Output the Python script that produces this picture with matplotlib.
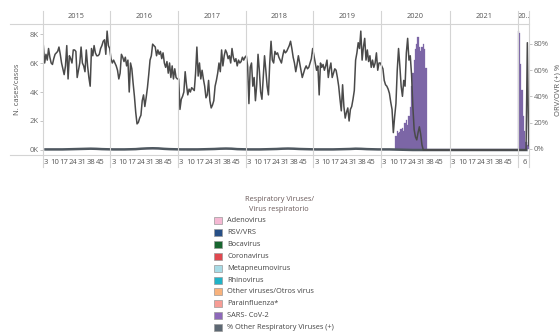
import numpy as np
import matplotlib
matplotlib.use("Agg")
import matplotlib.pyplot as plt
from matplotlib.lines import Line2D
from matplotlib.patches import Rectangle
import matplotlib.transforms as mtransforms

plt.rcParams['font.family'] = ['Open Sans', 'DejaVu Sans']

years = ["2015", "2016", "2017", "2018", "2019", "2020", "2021", "20.."]

# weekly cases (thousands), one list per year
cases_2015 = [7.2, 6.0, 6.6, 6.2, 7.0, 6.4, 6.0, 5.9, 6.3, 6.6, 6.7, 6.8, 7.1, 6.6, 6.0, 5.6, 5.2, 5.8,
              7.2, 4.9, 6.5, 6.3, 6.0, 6.9, 6.9, 6.8, 5.0, 5.5, 6.0, 7.1, 6.0, 5.8, 5.4, 6.9, 5.8, 5.0,
              4.4, 7.0, 6.5, 7.2, 6.7, 6.5, 6.5, 6.6, 7.0, 7.2, 7.5, 7.6, 6.6, 8.2, 7.2, 7.0]
cases_2016 = [6.3, 6.0, 6.2, 6.0, 5.8, 5.5, 4.9, 5.3, 6.6, 6.4, 6.1, 6.4, 5.8, 6.2, 4.0, 6.0, 5.6, 4.6,
              3.7, 2.6, 1.8, 1.9, 2.2, 2.4, 3.4, 3.8, 3.0, 3.6, 4.3, 5.2, 6.2, 6.5, 7.3, 7.2, 7.1, 6.5,
              6.9, 6.6, 6.8, 6.3, 6.7, 6.0, 5.7, 6.1, 5.3, 6.0, 5.0, 5.8, 4.9, 5.6, 5.0, 4.9]
cases_2017 = [4.9, 2.8, 3.5, 3.7, 4.0, 5.4, 4.5, 3.8, 4.2, 4.0, 4.3, 4.2, 4.1, 5.3, 7.1, 5.1, 6.0, 4.9,
              5.5, 4.9, 4.4, 3.6, 3.8, 4.8, 3.4, 2.9, 3.1, 3.4, 4.4, 4.8, 5.3, 6.0, 5.4, 6.9, 5.8, 6.5,
              6.9, 6.7, 6.3, 6.5, 6.0, 7.0, 6.4, 6.1, 6.3, 5.8, 6.2, 6.0, 6.1, 6.4, 6.2, 6.4]
cases_2018 = [6.5, 5.8, 3.2, 5.7, 6.0, 4.4, 5.0, 3.4, 4.5, 6.6, 5.5, 4.0, 3.5, 5.0, 6.5, 5.5, 4.4, 3.8,
              6.0, 7.5, 6.2, 6.0, 6.8, 6.6, 6.7, 6.4, 6.2, 6.0, 6.5, 6.9, 6.7, 6.8, 7.0, 7.2, 7.5, 7.0,
              6.4, 6.0, 5.4, 5.9, 6.5, 6.0, 5.5, 5.0, 5.3, 5.6, 5.8, 5.6, 5.7, 6.0, 6.3, 7.0]
cases_2019 = [6.5, 6.0, 5.5, 5.8, 3.8, 6.0, 5.7, 5.9, 5.5, 5.8, 6.2, 5.0, 5.6, 6.0, 5.0, 5.3, 5.6, 5.5,
              5.0, 4.4, 3.5, 2.7, 4.5, 3.0, 2.2, 2.6, 2.9, 2.0, 2.8, 3.0, 3.5, 4.1, 6.2, 6.7, 7.4, 7.0,
              8.2, 6.2, 7.1, 7.7, 6.2, 6.9, 6.1, 6.5, 5.7, 6.2, 5.7, 6.0, 6.7, 5.5, 6.0, 6.0]
cases_2020 = [5.8, 5.6, 4.8, 4.5, 4.4, 4.2, 3.9, 3.3, 2.8, 1.2, 2.3, 3.2, 5.5, 7.0, 5.8, 4.4, 3.7, 4.8,
              4.4, 6.7, 7.7, 6.2, 6.5, 5.2, 3.0, 1.4, 0.9, 0.7, 1.2, 1.6, 1.1, 0.35, 0.0,
              0, 0, 0, 0, 0, 0, 0, 0, 0, 0, 0, 0, 0, 0, 0, 0, 0, 0, 0, 0]
cases_2021 = [0] * 52
cases_2022 = [0, 0, 0, 0, 0, 0, 0, 7.4, 0.3]

# SARS-CoV-2 positivity (%)
sars_2020 = [0, 0, 0, 0, 0, 0, 0, 0, 0, 0, 0, 10, 14, 12, 13, 15, 16, 14, 20, 22, 18, 25, 32,
             48, 58, 68, 76, 80, 85, 78, 75, 78, 80, 76, 62,
             0, 0, 0, 0, 0, 0, 0, 0, 0, 0, 0, 0, 0, 0, 0, 0, 0, 0]
sars_2022 = [90, 88, 65, 45, 25, 14, 5, 3, 5]

# other respiratory viruses (cases), monthly
other_monthly = [[40, 40, 40, 40, 50, 60, 70, 80, 90, 80, 60, 50],
                 [40, 40, 40, 50, 60, 90, 110, 120, 110, 80, 60, 50],
                 [40, 40, 40, 40, 50, 60, 70, 90, 100, 90, 60, 50],
                 [40, 40, 40, 50, 60, 70, 90, 100, 90, 70, 60, 50],
                 [40, 40, 40, 40, 50, 60, 70, 90, 80, 60, 50, 40],
                 [40, 40, 30, 20, 10, 0, 0, 0, 0, 0, 0, 0],
                 [0, 0, 0, 0, 0, 0, 0, 0, 0, 0, 0, 0],
                 [0, 0]]

cases_by_year = [cases_2015, cases_2016, cases_2017, cases_2018, cases_2019,
                 cases_2020, cases_2021, cases_2022]
sars_by_year = [[0] * 52] * 5 + [sars_2020, [0] * 52, sars_2022]
week_labels = [[3, 10, 17, 24, 31, 38, 45]] * 7 + [[6]]

legend_names = ["Adenovirus", "RSV/VRS", "Bocavirus", "Coronavirus", "Metapneumovirus",
                "Rhinovirus", "Other viruses/Otros virus", "Parainfluenza*", "SARS- CoV-2",
                "% Other Respiratory Viruses (+)"]
legend_colors = ["#f5b8d3", "#274f86", "#17662f", "#e0484f", "#a7dbe6",
                 "#1fb3c7", "#f8b27c", "#f79c95", "#8d68b9", "#5d6873"]

W, H = 560, 335
fig = plt.figure(figsize=(W / 100, H / 100), dpi=100)


def fx(x):
    return x / W


def fy(y):
    return 1 - y / H


left, right, top, bot = 42.7, 529.3, 24, 155
ax = fig.add_axes([fx(left), fy(bot), fx(right - left), (bot - top) / H])
ax2 = ax.twinx()

# build continuous week index
offsets = np.cumsum([0] + [len(c) for c in cases_by_year])
x_all, y_all, s_all = [], [], []
tick_pos, tick_lab = [], []
for i, (c, s) in enumerate(zip(cases_by_year, sars_by_year)):
    xs = offsets[i] + np.arange(len(c)) + 0.5
    x_all.extend(xs)
    y_all.extend(np.array(c) * 1000)
    s_all.extend(s[:len(c)])
    for w in week_labels[i]:
        tick_pos.append(offsets[i] + w - 0.5)
        tick_lab.append(str(w))

x_all = np.array(x_all)
total = offsets[-1]

ax2.bar(x_all, s_all, width=1.0, color="#7c66a6", edgecolor="#7c66a6", lw=0.2, zorder=2)

ox, oy = [], []
for i, vals in enumerate(other_monthly):
    n = len(cases_by_year[i])
    step = n / len(vals) if i < 7 else 4.5
    for m, v in enumerate(vals):
        ox.append(offsets[i] + (m + 0.5) * step)
        oy.append(v)
ax.plot(ox, oy, color="#4f5860", lw=1.8, zorder=3)
ax.plot(x_all, y_all, color="#4a4a4a", lw=1.1, zorder=4)

ax.set_zorder(ax2.get_zorder() + 1)
ax.patch.set_visible(False)

ax.set_xlim(0, total)
ax.set_ylim(-345, 8690)
ax2.set_ylim(-4.57, 95.2)

ax.set_yticks([0, 2000, 4000, 6000, 8000])
ax.set_yticklabels(["0K", "2K", "4K", "6K", "8K"])
ax2.set_yticks([0, 20, 40, 60, 80])
ax2.set_yticklabels(["0%", "20%", "40%", "60%", "80%"])
ax.set_xticks(tick_pos)
ax.set_xticklabels(tick_lab)

for a in (ax, ax2):
    for sp in a.spines.values():
        sp.set_visible(False)
ax.tick_params(axis="y", length=2, width=0.6, color="#bbbbbb", labelsize=5.5,
               labelcolor="#666666", pad=1)
ax2.tick_params(axis="y", length=2, width=0.6, color="#bbbbbb", labelsize=5.5,
                labelcolor="#666666", pad=1)
ax.tick_params(axis="x", length=0, labelsize=5.5, labelcolor="#555555", pad=3)

ax.set_ylabel("N. cases/casos", fontsize=5.5, color="#555555", labelpad=6)
ax2.set_ylabel("ORV/OVR (+) %", fontsize=5.5, color="#555555", labelpad=4)

# year header
trans = mtransforms.blended_transform_factory(ax.transData, ax.transAxes)
for i, yr in enumerate(years):
    ax.text((offsets[i] + offsets[i + 1]) / 2, 1 + 7 / (bot - top), yr, transform=trans,
            ha="center", va="center", fontsize=5.3, color="#555555", clip_on=False)

# frame lines
grid_c = "#d4d4d4"
for b in offsets:
    xp = left + (right - left) * b / total
    fig.add_artist(Line2D([fx(xp), fx(xp)], [fy(11), fy(167)], color=grid_c, lw=0.8))
for yp in (top, bot):
    fig.add_artist(Line2D([fx(10), fx(right)], [fy(yp), fy(yp)], color=grid_c, lw=0.8))

# legend
fig.text(fx(280), fy(200), "Respiratory Viruses/", ha="center", va="center", fontsize=5.3,
         color="#6a5a5a")
fig.text(fx(279), fy(209.5), "Virus respiratorio", ha="center", va="center", fontsize=5.3,
         color="#6a5a5a")
for i, (name, col) in enumerate(zip(legend_names, legend_colors)):
    yc = 220.5 + i * 11.9
    fig.add_artist(Rectangle((fx(214), fy(yc + 3.5)), 8 / W, 7 / H, facecolor=col,
                             edgecolor="#9a9a9a", lw=0.5))
    fig.text(fx(227), fy(yc), name, ha="left", va="center", fontsize=5.3, color="#444444")

fig.savefig("out.png", dpi=100)
